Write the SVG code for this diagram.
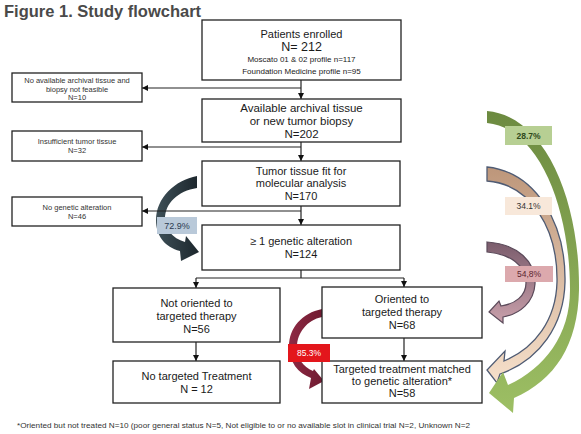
<svg xmlns="http://www.w3.org/2000/svg" width="581" height="434" viewBox="0 0 581 434">
<style>
text{font-family:"Liberation Sans",Arial,sans-serif;text-anchor:middle;fill:#1a1a1a}
.box{fill:#fff;stroke:#222;stroke-width:1.3}
.c{fill:none;stroke:#222;stroke-width:1.2}
.m{font-size:11px}
.s{font-size:7.5px;fill:#333}
.p{font-size:8px}
.lbl{stroke:none}
</style>
<defs>
<marker id="ah" viewBox="0 0 10 10" refX="10" refY="5" markerWidth="6" markerHeight="6" markerUnits="userSpaceOnUse" orient="auto"><path d="M0,0 L10,5 L0,10 z" fill="#111"/></marker>
<linearGradient id="gGreen" x1="0" y1="0" x2="0" y2="1"><stop offset="0" stop-color="#6c8a40"/><stop offset="1" stop-color="#9dbf64"/></linearGradient>
<linearGradient id="gTan" x1="0" y1="0" x2="0" y2="1"><stop offset="0" stop-color="#bd967a"/><stop offset="1" stop-color="#f6e0cb"/></linearGradient>
<linearGradient id="gMauve" x1="0" y1="0" x2="0" y2="1"><stop offset="0" stop-color="#7a5c6c"/><stop offset="1" stop-color="#c9a0ab"/></linearGradient>
<linearGradient id="gDark" x1="0" y1="0" x2="1" y2="0"><stop offset="0" stop-color="#3e5058"/><stop offset="1" stop-color="#1c262c"/></linearGradient>
<linearGradient id="gRed" x1="0" y1="0" x2="1" y2="0"><stop offset="0" stop-color="#8e2a44"/><stop offset="1" stop-color="#6e1a30"/></linearGradient>
</defs>
<rect width="581" height="434" fill="#fff"/>
<text x="4" y="17" style="font-size:16.5px;font-weight:bold;fill:#4a4a4a;text-anchor:start">Figure 1. Study flowchart</text>

<g id="curved-arrows">
<path id="arc-dark" d="M197,176 C175,180 156,198 156,220 C156,236 165,247 180,251 L181,261 L199,252 L186,236 L185,242 C172,238 165,229 165,219 C165,203 178,191 197,188 Z" fill="url(#gDark)"/>
<path id="arc-red" d="M322,309 C302,313 289,328 289,346 C289,362 298,373 311,378 L309,389 L324,381 L314,369 L313,371 C303,367 297,358 297,347 C297,333 307,320 322,317 Z" fill="url(#gRed)"/>
<path id="arc-mauve" d="M487,242 C518,244 536,262 535,284 C534,302 520,314 503,317 L503,323 L489,312 L499,301 L501,306 C515,304 526,296 526,283 C526,265 510,254 487,252 Z" fill="url(#gMauve)" stroke="#5b4a5a" stroke-width="1.2"/>
<path id="arc-tan" d="M487,167 C535,172 566,222 565,282 C564,325 540,360 500,374 L497,383 L487,370 L505,351 L504,361 C535,348 556,320 557,282 C558,228 530,184 487,181 Z" fill="url(#gTan)" stroke="#4f5b73" stroke-width="1.3"/>
<path id="arc-green" d="M487,111 C545,116 580,200 579,290 C578,345 555,380 514,398 L513,413 L489,393 L503,372 L508,385 C545,368 570,335 570,290 C570,210 540,128 487,123 Z" fill="url(#gGreen)"/>
</g>

<g id="connectors">
<path class="c" d="M301,80 V99" marker-end="url(#ah)"/>
<path class="c" d="M301,88 H142" marker-end="url(#ah)"/>
<path class="c" d="M301,142 V161" marker-end="url(#ah)"/>
<path class="c" d="M301,147 H142" marker-end="url(#ah)"/>
<path class="c" d="M301,206 V225" marker-end="url(#ah)"/>
<path class="c" d="M301,211 H142" marker-end="url(#ah)"/>
<path class="c" d="M301,270 V278 M196,278 H404"/>
<path class="c" d="M196,278 V288" marker-end="url(#ah)"/>
<path class="c" d="M404,278 V287" marker-end="url(#ah)"/>
<path class="c" d="M196,342 V361" marker-end="url(#ah)"/>
<path class="c" d="M404,338 V361" marker-end="url(#ah)"/>
</g>

<g id="n-enrolled">
<rect class="box" x="202" y="20" width="199" height="60"/>
<text x="301.5" y="38" class="m">Patients enrolled</text>
<text x="301.5" y="51" style="font-size:12.5px">N= 212</text>
<text x="301.5" y="62" class="p">Moscato 01 &amp; 02 profile  n=117</text>
<text x="301.5" y="74" class="p">Foundation  Medicine profile n=95</text>
</g>
<g id="n-available">
<rect class="box" x="202" y="99" width="199" height="43"/>
<text x="301.5" y="112" style="font-size:11.5px">Available archival tissue</text>
<text x="301.5" y="125" style="font-size:11.5px">or new tumor biopsy</text>
<text x="301.5" y="138" style="font-size:11.5px">N=202</text>
</g>
<g id="n-fit">
<rect class="box" x="202" y="161" width="198" height="45"/>
<text x="301" y="175" class="m">Tumor tissue fit for</text>
<text x="301" y="187" class="m">molecular analysis</text>
<text x="301" y="200" class="m">N=170</text>
</g>
<g id="n-alteration">
<rect class="box" x="202" y="225" width="198" height="45"/>
<text x="301" y="245" class="m">≥ 1 genetic alteration</text>
<text x="301" y="258" class="m">N=124</text>
</g>
<g id="n-not-oriented">
<rect class="box" x="113" y="288" width="167" height="54"/>
<text x="196.5" y="307" class="m">Not oriented to</text>
<text x="196.5" y="320" class="m">targeted therapy</text>
<text x="196.5" y="333" class="m">N=56</text>
</g>
<g id="n-no-targeted">
<rect class="box" x="113" y="361" width="167" height="42"/>
<text x="196.5" y="380" class="m">No targeted Treatment</text>
<text x="196.5" y="393" class="m">N = 12</text>
</g>
<g id="n-oriented">
<rect class="box" x="322" y="287" width="160" height="51"/>
<text x="402" y="303" class="m">Oriented to</text>
<text x="402" y="316" class="m">targeted therapy</text>
<text x="402" y="329" class="m">N=68</text>
</g>
<g id="n-matched">
<rect class="box" x="322" y="361" width="160" height="42"/>
<text x="402" y="373" class="m">Targeted treatment matched</text>
<text x="402" y="385" class="m">to genetic alteration*</text>
<text x="402" y="397" class="m">N=58</text>
</g>
<g id="n-no-archival">
<rect class="box" x="12" y="73" width="130" height="29"/>
<text x="77" y="82.5" class="s">No available archival tissue and</text>
<text x="77" y="91.5" class="s">biopsy not feasible</text>
<text x="77" y="100" class="s">N=10</text>
</g>
<g id="n-insufficient">
<rect class="box" x="12" y="131" width="130" height="30"/>
<text x="77" y="144" class="s">Insufficient tumor tissue</text>
<text x="77" y="153" class="s">N=32</text>
</g>
<g id="n-no-genetic">
<rect class="box" x="12" y="197" width="130" height="29"/>
<text x="77" y="209.5" class="s">No genetic alteration</text>
<text x="77" y="218.5" class="s">N=46</text>
</g>

<g id="percent-labels">
<rect x="157" y="217" width="40" height="17" fill="#b9c9d9"/>
<text x="177" y="229" style="font-size:9px;fill:#2a3a50">72.9%</text>
<rect x="288" y="344" width="42" height="18" fill="#e3161c"/>
<text x="309" y="356" style="font-size:8.5px;fill:#fff">85.3%</text>
<rect x="505" y="126" width="47" height="19" fill="#b7cf93"/>
<text x="528.5" y="139" style="font-size:8.5px;font-weight:bold;fill:#2e4a1c">28.7%</text>
<rect x="505" y="197" width="47" height="18" fill="#f8e8da"/>
<text x="528.5" y="209" style="font-size:8.5px;fill:#333">34.1%</text>
<rect x="505" y="266" width="48" height="16" fill="#dca9ad"/>
<text x="529" y="277" style="font-size:8.5px;fill:#5b2530">54,8%</text>
</g>

<text x="17" y="428" textLength="453" lengthAdjust="spacingAndGlyphs" style="font-size:8px;fill:#333;text-anchor:start">*Oriented but not treated N=10 (poor general status N=5, Not eligible to or no available slot in clinical trial N=2, Unknown N=2</text>
</svg>
